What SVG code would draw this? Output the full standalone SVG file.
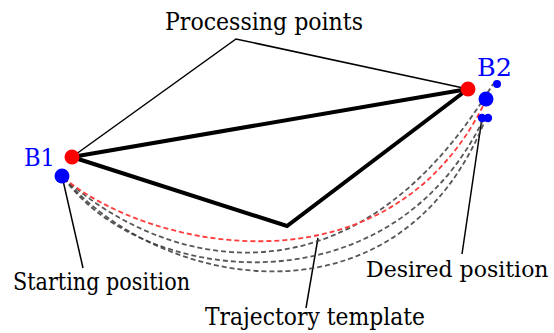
<svg xmlns="http://www.w3.org/2000/svg" width="554" height="333" viewBox="0 0 554 333">
<style>
.lbl{font-family:"DejaVu Serif","Liberation Serif",serif;font-size:23.5px;fill:#000}
.b{font-family:"DejaVu Serif","Liberation Serif",serif;font-size:25px;fill:#0000ff}
.lead{stroke:#000;stroke-width:1.5;fill:none}
.traj{fill:none;stroke-width:1.8;stroke-dasharray:5 3}
.g{stroke:#3a3a3a;opacity:0.85}
.r{stroke:#ff3b3b}
.rd{fill:#ff0000}
.bd{fill:#0000ff}
</style>
<rect width="554" height="333" fill="#fff"/>
<g id="connectors">
<path class="lead" d="M72,157 L236,39 L468,89"/>
<path class="lead" d="M62,176 L83,268"/>
<path class="lead" d="M318,238 L306,308"/>
<path class="lead" d="M482,118 L462,254"/>
</g>
<g id="trajectories">
<path class="traj g" d="M64,178 C160,265 350,320 493,84"/>
<path class="traj g" d="M64,178 C140,285 390,315 484,118"/>
<path class="traj g" d="M64,178 C160,290 400,335 486,118"/>
<path class="traj r" d="M64,178 C150,250 390,300 486,100"/>
</g>
<g id="triangle">
<path d="M72,157 L468,89 L287,226 Z" fill="none" stroke="#000" stroke-width="4" stroke-linejoin="miter"/>
</g>
<g id="B1">
<circle class="rd" cx="72" cy="157" r="7.5"/>
<circle class="bd" cx="62" cy="176" r="7.5"/>
<text class="b" x="24" y="166" textLength="31" lengthAdjust="spacingAndGlyphs">B1</text>
</g>
<g id="B2">
<circle class="rd" cx="468" cy="89" r="7.5"/>
<circle class="bd" cx="486" cy="99" r="7.5"/>
<circle class="bd" cx="497" cy="84" r="4"/>
<circle class="bd" cx="482" cy="118" r="4.2"/>
<circle class="bd" cx="488" cy="118" r="4.2"/>
<text class="b" x="477" y="76" textLength="35" lengthAdjust="spacingAndGlyphs">B2</text>
</g>
<g id="processing-points">
<text class="lbl" x="165" y="30" textLength="198" lengthAdjust="spacingAndGlyphs">Processing points</text>
</g>
<g id="starting-position">
<text class="lbl" x="13" y="290" textLength="177" lengthAdjust="spacingAndGlyphs">Starting position</text>
</g>
<g id="trajectory-template">
<text class="lbl" x="205" y="325" textLength="220" lengthAdjust="spacingAndGlyphs">Trajectory template</text>
</g>
<g id="desired-position">
<text class="lbl" x="366" y="277" style="font-size:22px">Desired position</text>
</g>
</svg>
